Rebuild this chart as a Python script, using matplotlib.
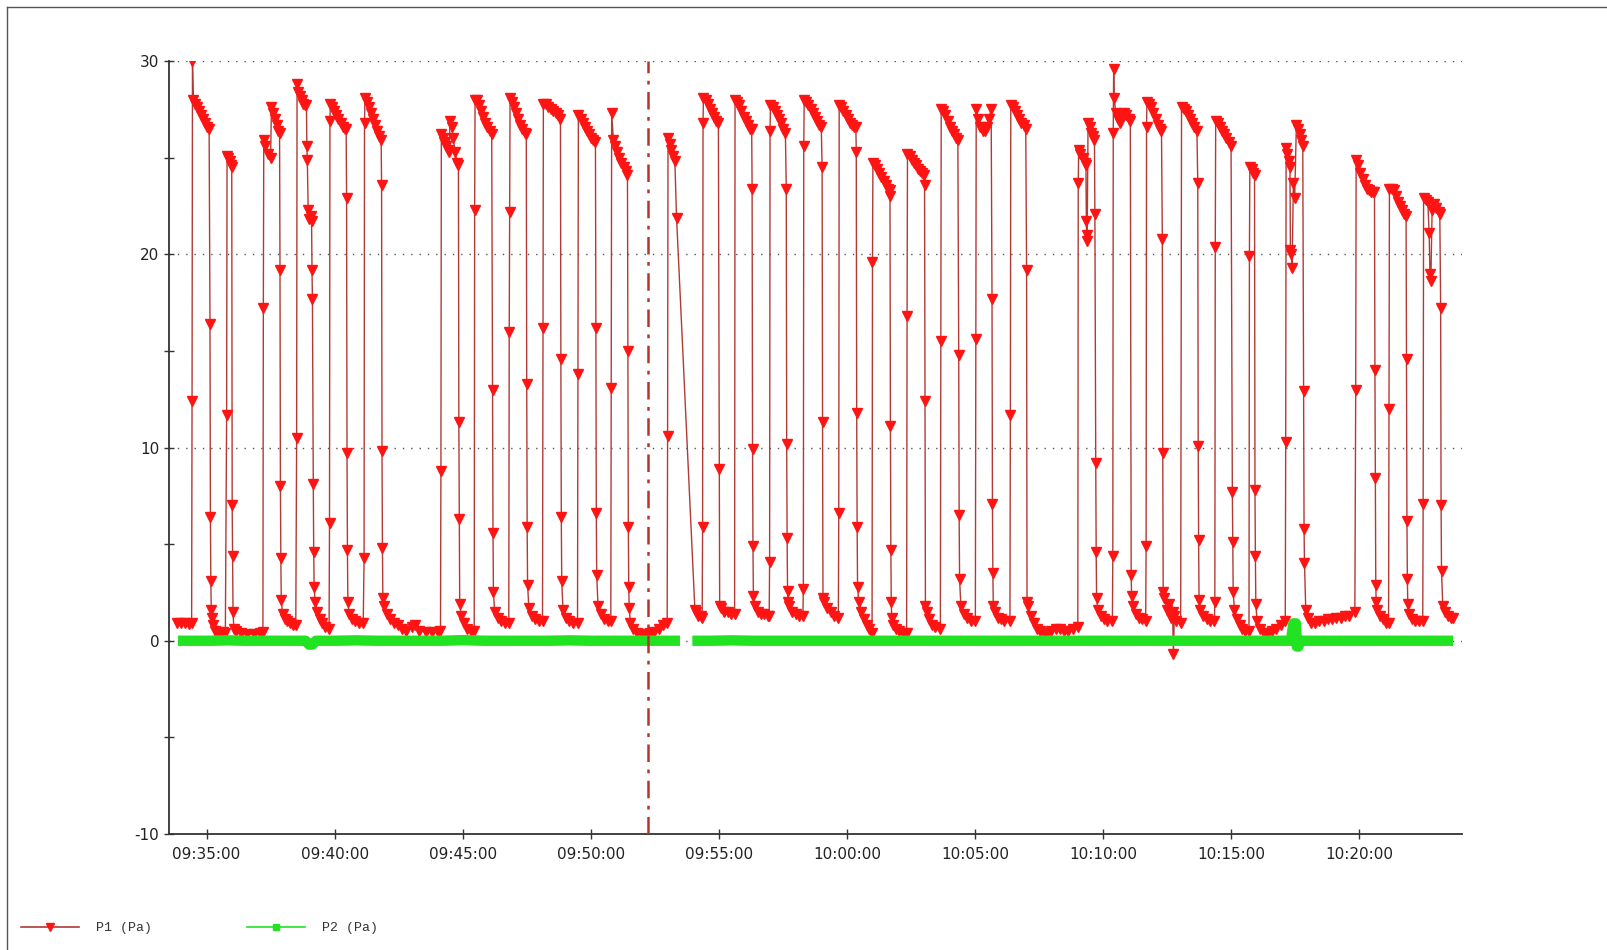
import numpy as np
import matplotlib
matplotlib.use("Agg")
import matplotlib.pyplot as plt
import matplotlib.dates as mdates
from matplotlib.lines import Line2D
from matplotlib.ticker import MultipleLocator

plt.rcParams["axes.unicode_minus"] = False

# time axis: seconds after 09:35:00
t_ref = np.datetime64("2000-01-01T09:35:00")
x_range = (-88, 2941)
event_sec = 1035          # dash-dot marker line
y_range = (-10, 30)

# P1 (Pa) samples: (seconds, value)
p1_samples = [
    (-69, 0.9), (-60, 0.9), (-50, 0.9), (-40, 0.85), (-35, 0.9), (-34, 12.4), (-33, 30.0), (-31, 28.0),
    (-26, 27.8), (-22, 27.6), (-18, 27.4), (-13, 27.2), (-8, 27.0), (-3, 26.8), (2, 26.6), (6, 26.5),
    (8, 16.4), (9, 6.4), (10, 3.1), (11, 1.6), (13, 1.2), (16, 0.8), (20, 0.5), (26, 0.45), (32, 0.4),
    (38, 0.45), (44, 0.4),
    (47, 11.7), (48, 25.1), (51, 25.0), (54, 24.8), (57, 24.6), (59, 24.5), (60, 7.0), (61, 4.4),
    (62, 1.5), (64, 0.6), (70, 0.5), (80, 0.4), (95, 0.35), (110, 0.35), (125, 0.4), (132, 0.45),
    (133, 17.2), (134, 25.9), (138, 25.6), (144, 25.2), (150, 25.0), (152, 27.6), (156, 27.3), (160, 27.0),
    (164, 26.7), (168, 26.4), (171, 26.3), (172, 19.2), (173, 8.0), (174, 4.3), (175, 2.1), (178, 1.4),
    (183, 1.1), (189, 1.0), (196, 0.9), (203, 0.8), (209, 0.8),
    (211, 10.5), (212, 28.8), (215, 28.4), (219, 28.2), (223, 28.0), (227, 27.8), (231, 27.7), (234, 27.7),
    (235, 25.6), (236, 24.9), (238, 22.3), (241, 21.8), (244, 22.0), (246, 21.7), (247, 19.2), (248, 17.7),
    (250, 8.1), (251, 4.6), (252, 2.8), (254, 2.0), (259, 1.5), (265, 1.1), (271, 0.9), (278, 0.7), (287, 0.6),
    (288, 6.1), (289, 26.9), (290, 27.8), (294, 27.6), (299, 27.4), (304, 27.2), (309, 27.0), (314, 26.8),
    (319, 26.6), (324, 26.5), (327, 26.5), (328, 22.9), (329, 9.7), (330, 4.7), (331, 2.0), (334, 1.4),
    (341, 1.1), (348, 1.0), (356, 0.9), (367, 0.9),
    (369, 4.3), (370, 26.8), (371, 28.1), (375, 27.9), (380, 27.6), (385, 27.3), (390, 27.0), (395, 26.7),
    (400, 26.4), (405, 26.1), (409, 25.9), (410, 23.6), (411, 9.8), (412, 4.8), (413, 2.2), (416, 1.8),
    (422, 1.4), (430, 1.1), (438, 0.9), (448, 0.8), (458, 0.6), (468, 0.5), (481, 0.7), (488, 0.8),
    (498, 0.5), (513, 0.45), (528, 0.45), (542, 0.45), (548, 0.5),
    (549, 8.8), (550, 26.2), (553, 26.0), (557, 25.8), (561, 25.6), (565, 25.4), (569, 25.3), (570, 26.9),
    (574, 26.6), (578, 26.0), (582, 25.3), (587, 24.7), (590, 24.6), (591, 11.3), (592, 6.3), (593, 1.9),
    (597, 1.3), (604, 0.9), (611, 0.6), (619, 0.5), (627, 0.5),
    (628, 22.3), (629, 28.0), (633, 28.0), (638, 27.7), (643, 27.4), (648, 27.1), (653, 26.8), (658, 26.6),
    (663, 26.4), (668, 26.2), (670, 13.0), (671, 5.6), (672, 2.5), (675, 1.5), (682, 1.2), (690, 1.0),
    (698, 0.9), (708, 0.9),
    (709, 16.0), (710, 22.2), (711, 28.1), (715, 27.9), (720, 27.6), (725, 27.3), (730, 27.0), (735, 26.7),
    (740, 26.5), (745, 26.3), (749, 26.2), (750, 13.3), (751, 5.9), (752, 2.9), (755, 1.7), (762, 1.3),
    (770, 1.1), (778, 1.0), (787, 1.0),
    (788, 16.2), (789, 27.8), (794, 27.8), (800, 27.6), (806, 27.5), (812, 27.4), (818, 27.3), (824, 27.2),
    (829, 27.0), (830, 14.6), (831, 6.4), (832, 3.1), (835, 1.6), (842, 1.2), (850, 1.0), (858, 0.9), (869, 0.9),
    (870, 13.8), (871, 27.2), (876, 27.0), (881, 26.8), (886, 26.6), (891, 26.4), (896, 26.2), (901, 26.0),
    (906, 25.9), (911, 25.8), (912, 16.2), (913, 6.6), (914, 3.4), (917, 1.8), (924, 1.4), (932, 1.1),
    (940, 1.0), (947, 1.0),
    (948, 13.1), (949, 27.3), (953, 25.9), (957, 25.6), (962, 25.3), (967, 25.0), (972, 24.7), (977, 24.5),
    (982, 24.3), (986, 24.1), (987, 15.0), (988, 5.9), (989, 2.8), (990, 1.7), (993, 0.9), (999, 0.6),
    (1009, 0.4), (1019, 0.35), (1029, 0.35), (1039, 0.4), (1049, 0.45), (1059, 0.6), (1069, 0.8), (1079, 0.9),
    (1080, 10.6), (1081, 26.0), (1085, 25.7), (1089, 25.4), (1093, 25.1), (1097, 24.8), (1101, 21.9),
    (1144, 1.6), (1147, 1.5), (1152, 1.3), (1158, 1.3), (1161, 1.2),
    (1162, 5.9), (1163, 26.8), (1164, 28.1), (1169, 28.0), (1174, 27.8), (1179, 27.5), (1184, 27.3),
    (1189, 27.1), (1194, 26.9), (1199, 26.8), (1201, 8.9), (1202, 1.8), (1206, 1.7), (1213, 1.5),
    (1221, 1.5), (1229, 1.4), (1237, 1.4),
    (1238, 28.0), (1243, 27.9), (1248, 27.7), (1253, 27.4), (1258, 27.1), (1263, 26.9), (1268, 26.7),
    (1273, 26.5), (1277, 26.5), (1278, 23.4), (1279, 9.9), (1280, 4.9), (1281, 2.3), (1284, 1.8),
    (1291, 1.5), (1299, 1.4), (1307, 1.4), (1315, 1.3), (1318, 1.3),
    (1319, 4.1), (1320, 26.4), (1321, 27.7), (1326, 27.6), (1331, 27.4), (1336, 27.2), (1341, 27.0),
    (1346, 26.8), (1351, 26.5), (1356, 26.3), (1358, 23.4), (1359, 10.2), (1360, 5.3), (1361, 2.6),
    (1362, 2.0), (1365, 1.8), (1372, 1.5), (1380, 1.4), (1388, 1.3), (1397, 1.3),
    (1398, 2.7), (1399, 25.6), (1400, 28.0), (1405, 27.9), (1410, 27.7), (1415, 27.5), (1420, 27.3),
    (1425, 27.1), (1430, 26.9), (1435, 26.7), (1440, 26.6), (1442, 24.5), (1443, 11.3), (1444, 2.2),
    (1447, 2.0), (1454, 1.7), (1462, 1.5), (1470, 1.3), (1480, 1.2),
    (1481, 6.6), (1482, 27.7), (1487, 27.6), (1492, 27.4), (1497, 27.2), (1502, 27.0), (1507, 26.8),
    (1512, 26.7), (1517, 26.6), (1521, 26.6), (1522, 25.3), (1523, 11.8), (1524, 5.9), (1525, 2.8),
    (1528, 2.0), (1534, 1.5), (1540, 1.1), (1546, 0.8), (1552, 0.6), (1559, 0.4),
    (1560, 19.6), (1561, 24.7), (1566, 24.6), (1571, 24.4), (1576, 24.2), (1581, 24.0), (1586, 23.8),
    (1591, 23.6), (1596, 23.4), (1600, 23.3), (1601, 23.0), (1602, 11.1), (1603, 4.7), (1604, 2.0),
    (1605, 1.2), (1609, 0.8), (1616, 0.6), (1623, 0.5), (1631, 0.4), (1640, 0.4),
    (1641, 16.8), (1642, 25.2), (1647, 25.1), (1652, 24.9), (1657, 24.7), (1662, 24.6), (1667, 24.4),
    (1672, 24.3), (1677, 24.2), (1681, 24.1), (1682, 23.6), (1683, 12.4), (1684, 1.8), (1687, 1.5),
    (1693, 1.1), (1700, 0.8), (1707, 0.7), (1719, 0.6),
    (1720, 15.5), (1721, 27.5), (1726, 27.4), (1731, 27.2), (1736, 26.9), (1741, 26.6), (1746, 26.4),
    (1751, 26.2), (1756, 26.0), (1760, 25.9), (1762, 14.8), (1763, 6.5), (1764, 3.2), (1767, 1.8),
    (1774, 1.4), (1782, 1.2), (1790, 1.0), (1801, 1.0),
    (1802, 15.6), (1803, 27.5), (1808, 27.0), (1813, 26.6), (1818, 26.4), (1823, 26.4), (1828, 26.6),
    (1833, 27.0), (1838, 27.5), (1840, 17.7), (1841, 7.1), (1842, 3.5), (1843, 1.8), (1846, 1.5),
    (1853, 1.2), (1861, 1.1), (1869, 1.0), (1882, 1.0),
    (1883, 11.7), (1884, 27.7), (1889, 27.6), (1894, 27.4), (1899, 27.2), (1904, 27.0), (1909, 26.8),
    (1914, 26.7), (1919, 26.5), (1921, 19.2), (1922, 2.0), (1925, 1.8), (1931, 1.3), (1938, 0.9),
    (1945, 0.6), (1953, 0.5), (1961, 0.4), (1969, 0.4), (1979, 0.5), (1989, 0.6), (1999, 0.6),
    (2009, 0.5), (2019, 0.5), (2029, 0.6), (2041, 0.7),
    (2042, 23.7), (2043, 25.4), (2047, 25.2), (2052, 25.0), (2057, 24.7), (2060, 24.6), (2061, 21.7),
    (2062, 20.7), (2063, 21.0), (2065, 26.8), (2069, 26.6), (2073, 26.3), (2077, 26.1), (2080, 25.9),
    (2081, 22.1), (2083, 9.2), (2084, 4.6), (2085, 2.2), (2088, 1.6), (2095, 1.3), (2102, 1.1),
    (2109, 1.0), (2122, 1.0),
    (2123, 4.4), (2124, 26.3), (2125, 29.6), (2126, 28.1), (2130, 27.3), (2135, 27.0), (2140, 26.8),
    (2145, 27.1), (2150, 27.3), (2155, 27.2), (2160, 27.0), (2164, 26.9), (2166, 3.4), (2167, 2.3),
    (2170, 1.8), (2177, 1.4), (2184, 1.2), (2191, 1.1), (2200, 1.0),
    (2201, 4.9), (2202, 26.6), (2203, 27.9), (2208, 27.8), (2213, 27.6), (2218, 27.3), (2223, 27.0),
    (2228, 26.7), (2233, 26.5), (2237, 26.4), (2239, 20.8), (2240, 9.7), (2241, 2.5), (2244, 2.2),
    (2249, 1.6), (2254, 1.9), (2259, 1.2), (2263, 1.5), (2265, -0.7), (2267, 1.3), (2272, 1.0), (2282, 0.9),
    (2284, 27.6), (2289, 27.5), (2294, 27.4), (2299, 27.2), (2304, 27.0), (2309, 26.8), (2314, 26.6),
    (2320, 26.4), (2322, 23.7), (2323, 10.1), (2324, 5.2), (2325, 2.1), (2328, 1.6), (2335, 1.3),
    (2343, 1.1), (2351, 1.0), (2361, 1.0),
    (2362, 2.0), (2363, 20.4), (2364, 26.9), (2369, 26.8), (2374, 26.6), (2379, 26.4), (2384, 26.2),
    (2389, 26.0), (2394, 25.8), (2400, 25.6), (2403, 7.7), (2404, 5.1), (2405, 2.5), (2408, 1.6),
    (2414, 1.1), (2420, 0.8), (2426, 0.6), (2433, 0.5), (2442, 0.5),
    (2443, 19.9), (2444, 24.5), (2448, 24.4), (2452, 24.2), (2455, 24.1), (2456, 7.8), (2457, 4.4),
    (2458, 1.9), (2461, 1.0), (2468, 0.6), (2476, 0.4), (2486, 0.4), (2496, 0.5), (2506, 0.6),
    (2516, 0.8), (2527, 1.0),
    (2528, 10.3), (2529, 25.5), (2532, 25.2), (2535, 24.8), (2538, 24.5), (2539, 20.2), (2541, 20.0),
    (2543, 19.3), (2546, 23.7), (2549, 22.9), (2553, 26.7), (2557, 26.5), (2561, 26.2), (2565, 25.9),
    (2568, 25.6), (2570, 12.9), (2571, 5.8), (2572, 4.0), (2575, 1.6), (2581, 1.2), (2588, 0.9),
    (2597, 0.9), (2607, 1.0), (2617, 1.0), (2627, 1.1), (2637, 1.1), (2647, 1.2), (2657, 1.2),
    (2667, 1.3), (2677, 1.3), (2690, 1.5),
    (2692, 13.0), (2693, 24.9), (2698, 24.6), (2703, 24.2), (2708, 23.9), (2713, 23.6), (2718, 23.4),
    (2723, 23.3), (2728, 23.2), (2733, 23.2), (2736, 23.2), (2737, 14.0), (2738, 8.4), (2739, 2.9),
    (2740, 2.0), (2743, 1.6), (2749, 1.3), (2755, 1.1), (2762, 0.9), (2769, 0.9),
    (2770, 12.0), (2771, 23.4), (2776, 23.4), (2781, 23.3), (2786, 23.0), (2791, 22.7), (2796, 22.5),
    (2801, 22.3), (2806, 22.1), (2810, 22.0), (2811, 14.6), (2812, 6.2), (2813, 3.2), (2814, 1.9),
    (2817, 1.4), (2824, 1.1), (2832, 1.0), (2840, 1.0), (2849, 1.0),
    (2850, 7.1), (2851, 22.9), (2856, 22.8), (2861, 22.7), (2864, 21.1), (2866, 19.0), (2868, 18.6),
    (2871, 22.3), (2876, 22.6), (2881, 22.4), (2886, 22.2), (2889, 22.1), (2891, 17.2), (2892, 7.0),
    (2893, 3.6), (2896, 1.8), (2902, 1.5), (2909, 1.3), (2915, 1.2), (2921, 1.2),
]

# P2 (Pa) samples: (seconds, value); nan marks the logging gap
p2_samples = [
    (-67, 0.0), (-30, 0.0), (10, 0.0), (50, 0.02), (90, 0.0), (130, 0.0), (170, 0.0), (210, 0.0),
    (232, 0.0), (240, -0.2), (248, -0.2), (256, 0.0), (300, 0.0), (350, 0.02), (400, 0.0), (450, 0.0),
    (500, 0.0), (550, 0.0), (600, 0.03), (650, 0.0), (700, 0.0), (750, 0.0), (800, 0.0), (850, 0.02),
    (900, 0.0), (950, 0.0), (1000, 0.0), (1050, 0.0), (1080, 0.0), (1109, 0.0),
    (1120, np.nan),
    (1138, 0.0), (1180, 0.0), (1230, 0.02), (1280, 0.0), (1330, 0.0), (1380, 0.0), (1430, 0.0),
    (1480, 0.0), (1530, 0.0), (1580, 0.0), (1630, 0.0), (1680, 0.0), (1730, 0.0), (1780, 0.0),
    (1830, 0.0), (1880, 0.0), (1930, 0.0), (1980, 0.0), (2030, 0.0), (2080, 0.0), (2130, 0.0),
    (2180, 0.0), (2230, 0.0), (2280, 0.0), (2330, 0.0), (2380, 0.0), (2430, 0.0), (2480, 0.0),
    (2520, 0.0), (2540, 0.0), (2546, 0.9), (2552, 0.9), (2554, -0.3), (2558, -0.3), (2561, 0.0),
    (2600, 0.0), (2650, 0.0), (2700, 0.0), (2750, 0.0), (2800, 0.0), (2850, 0.0), (2900, 0.0), (2920, 0.0),
]

series_labels = ["P1 (Pa)", "P2 (Pa)"]


def to_time(sec):
    return t_ref + (np.asarray(sec, dtype=float) * 1000).astype("timedelta64[ms]")


p1_sec, p1_val = zip(*p1_samples)
p2_sec, p2_val = zip(*p2_samples)

fig = plt.figure(figsize=(16.08, 9.5), dpi=100)
ax = fig.add_axes([169 / 1608, 116 / 950, 1293 / 1608, 773 / 950])

ax.plot(to_time(p1_sec), p1_val, color="#b03a36", lw=1.0, marker="v", ms=6.5,
        mfc="#ff1414", mec="#ff1414", zorder=3)
ax.plot(to_time(p2_sec), p2_val, color="#22e322", lw=7.5, solid_capstyle="butt", zorder=4)
ax.axvline(to_time(event_sec), color="#b8322e", lw=1.8, dashes=(7, 3, 1.5, 3), zorder=5)

ax.set_xlim(to_time(x_range[0]), to_time(x_range[1]))
ax.set_ylim(*y_range)
ax.yaxis.set_major_locator(MultipleLocator(10))
ax.yaxis.set_minor_locator(MultipleLocator(5))
ax.xaxis.set_major_locator(mdates.MinuteLocator(byminute=range(0, 60, 5)))
ax.xaxis.set_major_formatter(mdates.DateFormatter("%H:%M:%S"))

ax.grid(axis="y", which="major", color="#555555", linestyle=(0, (1, 5)), lw=1)
for side in ("top", "right"):
    ax.spines[side].set_visible(False)
for side in ("left", "bottom"):
    ax.spines[side].set_color("#333333")
    ax.spines[side].set_linewidth(1.3)
ax.tick_params(which="both", direction="inout", length=7, width=1, color="#333333",
               labelsize=11, labelcolor="#222222")
ax.tick_params(axis="x", pad=6)

handles = [
    Line2D([], [], color="#b03a36", lw=1.2, marker="v", ms=6, mfc="#ff1414", mec="#ff1414"),
    Line2D([], [], color="#22e322", lw=1.2, marker="s", ms=5, mfc="#22e322", mec="#22e322"),
]
fig.legend(handles, series_labels, loc="center left", bbox_to_anchor=(21 / 1608, 1 - 928 / 950),
           ncol=2, frameon=False, borderpad=0, borderaxespad=0, handlelength=4.4,
           handletextpad=1.3, columnspacing=7.2,
           prop={"family": "Liberation Mono", "size": 9.5}, labelcolor="#333333")

# panel border (left and top)
fig.add_artist(Line2D([7 / 1608, 7 / 1608], [0, 1 - 7 / 950], transform=fig.transFigure,
                      color="#555555", lw=1))
fig.add_artist(Line2D([7 / 1608, 1], [1 - 7 / 950, 1 - 7 / 950], transform=fig.transFigure,
                      color="#555555", lw=1))

fig.savefig("out.png", dpi=100)
